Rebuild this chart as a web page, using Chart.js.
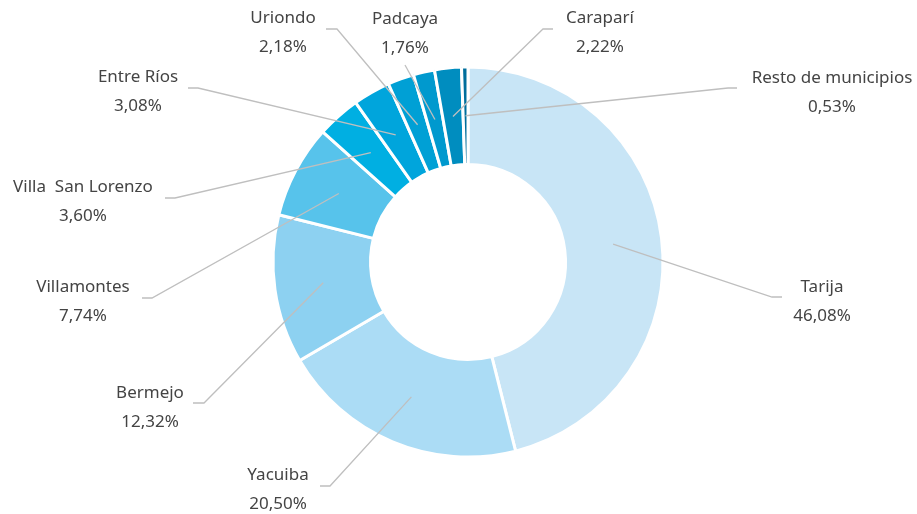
<!DOCTYPE html>
<html>
<head>
<meta charset="utf-8">
<script src="https://cdn.jsdelivr.net/npm/chart.js@4.4.0/dist/chart.umd.min.js"></script>
<style>
  html, body { margin: 0; padding: 0; background: #fff; }
  #wrap { width: 917px; height: 514px; }
</style>
</head>
<body>
<div id="wrap"><canvas id="chartMunicipios" width="917" height="514"></canvas></div>
<script>
// datos
var municipios = ['Tarija', 'Yacuiba', 'Bermejo', 'Villamontes', 'Villa  San Lorenzo',
    'Entre Ríos', 'Uriondo', 'Padcaya', 'Caraparí', 'Resto de municipios'];
var porcentajes = [46.08, 20.50, 12.32, 7.74, 3.60, 3.08, 2.18, 1.76, 2.22, 0.53];
var etiquetas = ['46,08%', '20,50%', '12,32%', '7,74%', '3,60%', '3,08%', '2,18%', '1,76%', '2,22%', '0,53%'];

var colores = ['#C8E5F6', '#ABDCF5', '#8DD1F1', '#57C3EB', '#00AFE2',
    '#00A5DC', '#00A0D5', '#0099CE', '#008DBF', '#006E9C'];

// posicion de las etiquetas: centro x, y del nombre, inicio de la guia, codo
var labelPos = [
    [822, 287, 782, 297, 772, 297],
    [278, 475, 320, 486, 330, 486],
    [150, 393, 193, 403, 204, 403],
    [83, 287, 142, 298, 152, 298],
    [83, 187, 165, 198, 175, 198],
    [138, 77, 188, 88, 198, 88],
    [283, 18, 326, 29, 337, 29],
    [405, 19, 405, 65, 405, 65],
    [600, 18, 553, 29, 543, 29],
    [832, 78, 737, 88, 728, 88]
];

var etiquetasPlugin = {
    id: 'etiquetas',
    afterDatasetsDraw: function (chart) {
        var ctx = chart.ctx;
        var arcs = chart.getDatasetMeta(0).data;
        ctx.save();
        ctx.strokeStyle = '#BFBFBF';
        ctx.lineWidth = 1.3;
        arcs.forEach(function (arc, i) {
            var p = arc.tooltipPosition();
            var lp = labelPos[i];
            ctx.beginPath();
            ctx.moveTo(lp[2], lp[3]);
            ctx.lineTo(lp[4], lp[5]);
            ctx.lineTo(p.x, p.y);
            ctx.stroke();
        });
        ctx.fillStyle = '#444444';
        ctx.font = '17px "Noto Sans"';
        ctx.textAlign = 'center';
        ctx.textBaseline = 'middle';
        municipios.forEach(function (m, i) {
            var lp = labelPos[i];
            ctx.fillText(m, lp[0], lp[1]);
            ctx.fillText(etiquetas[i], lp[0], lp[1] + 29);
        });
        ctx.restore();
    }
};

var data = {
    labels: municipios,
    datasets: [{
        data: porcentajes,
        backgroundColor: colores,
        borderColor: '#ffffff',
        borderWidth: 3,
        hoverOffset: 0,
        radius: 195
    }]
};

var canvas = document.getElementById('chartMunicipios');
var ctx = canvas.getContext('2d');
var myChart = new Chart(ctx, {
    type: 'doughnut',
    data: data,
    options: {
        responsive: false,
        animation: false,
        cutout: '50%',
        layout: { padding: { top: 67, bottom: 57, left: 19, right: 0 } },
        plugins: {
            legend: { display: false },
            tooltip: { enabled: false }
        }
    },
    plugins: [etiquetasPlugin]
});
</script>
</body>
</html>
